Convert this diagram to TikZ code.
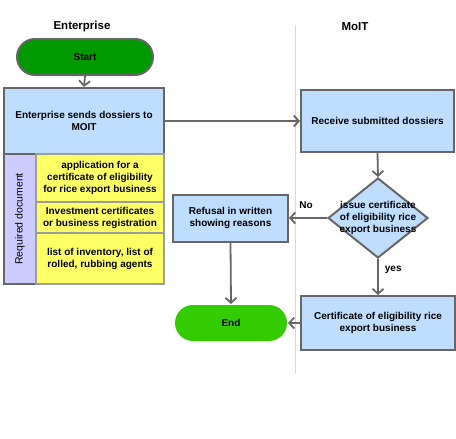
\documentclass[tikz,border=0pt]{standalone}
\usepackage{fontspec}
\setmainfont{Liberation Sans}
\usetikzlibrary{shapes.geometric,shapes.misc,arrows.meta}
\definecolor{boxblue}{HTML}{BFDEFF}
\definecolor{docyellow}{HTML}{FFFF66}
\definecolor{lav}{HTML}{CCCCFF}
\definecolor{lanecol}{HTML}{D4D4F8}
\definecolor{startgreen}{HTML}{009900}
\definecolor{endgreen}{HTML}{33CC00}
\definecolor{edge}{HTML}{666666}
\begin{document}
\begin{tikzpicture}[x=1pt,y=-1pt,
  every node/.style={font=\fontsize{10}{12}\selectfont\bfseries, align=center, inner sep=0pt},
  procbox/.style={rectangle, draw=edge, line width=2pt, fill=boxblue},
  docbox/.style={rectangle, draw=edge!65, line width=1.5pt, fill=docyellow},
  term/.style={rounded rectangle, draw=edge, line width=2pt},
  flow/.style={draw=edge, line width=1.8pt, -{Straight Barb[length=5pt,width=11pt]}},
  lbl/.style={font=\fontsize{10}{12}\selectfont\bfseries}
]
\useasboundingbox (0,0) rectangle (456,439);
% lane divider
\draw[lanecol, line width=1pt] (295,25) -- (295,374);
% headers
\node[font=\fontsize{11.5}{13}\selectfont\bfseries] (hEnt) at (82,27) {Enterprise};
\node[font=\fontsize{11.5}{13}\selectfont\bfseries] (hMoit) at (355,27) {MoIT};
% start
\node[term, fill=startgreen, minimum width=136pt, minimum height=36pt] (start) at (85,57) {Start};
% box1
\node[procbox, minimum width=160pt, minimum height=66pt] (send) at (84,121) {Enterprise sends dossiers to\\MOIT};
% required document column
\node[rectangle, draw=edge, line width=2pt, fill=lav, minimum width=32pt, minimum height=130pt] (req) at (20,219) {};
\node[rotate=90, font=\fontsize{10.5}{12}\selectfont] (reqt) at (20,219) {Required document};
% yellow cells
\node[docbox, minimum width=128pt, minimum height=48pt] (d1) at (100,178) {application for a\\certificate of eligibility\\for rice export business};
\node[docbox, minimum width=128pt, minimum height=31pt] (d2) at (100,217.5) {Investment certificates\\or business registration};
\node[docbox, minimum width=128pt, minimum height=51pt] (d3) at (100,258.5) {list of inventory, list of\\rolled, rubbing agents};
% receive
\node[procbox, minimum width=153pt, minimum height=62pt] (recv) at (377.5,121) {Receive submitted dossiers};
% diamond
\node[diamond, draw=edge, line width=2pt, fill=boxblue, minimum width=100pt, minimum height=80pt] (dec) at (378,218) {};
\node (dect) at (378,218) {issue certificate\\of eligibility rice\\export business};
% refusal
\node[procbox, minimum width=115pt, minimum height=47pt] (ref) at (230.5,218) {Refusal in written\\showing reasons};
% end
\node[term, draw=none, fill=endgreen, minimum width=112pt, minimum height=36pt] (end) at (231,323) {End};
% certificate
\node[procbox, minimum width=154pt, minimum height=54pt] (cert) at (378,323) {Certificate of eligibility rice\\export business};
% connectors
\draw[flow] (start.south) -- (send.north);
\draw[flow] (send.east) -- (recv.west);
\draw[flow] (recv.south) -- (dec.north);
\draw[flow] (dec.west) -- node[lbl, above=9pt, pos=0.55] (no) {No} (ref.east);
\draw[flow] (dec.south) -- node[lbl, right=6pt, pos=0.3] (yes) {yes} (cert.north);
\draw[flow] (ref.south) -- (end.north);
\draw[flow] (cert.west) -- (end.east);
\end{tikzpicture}
\end{document}
